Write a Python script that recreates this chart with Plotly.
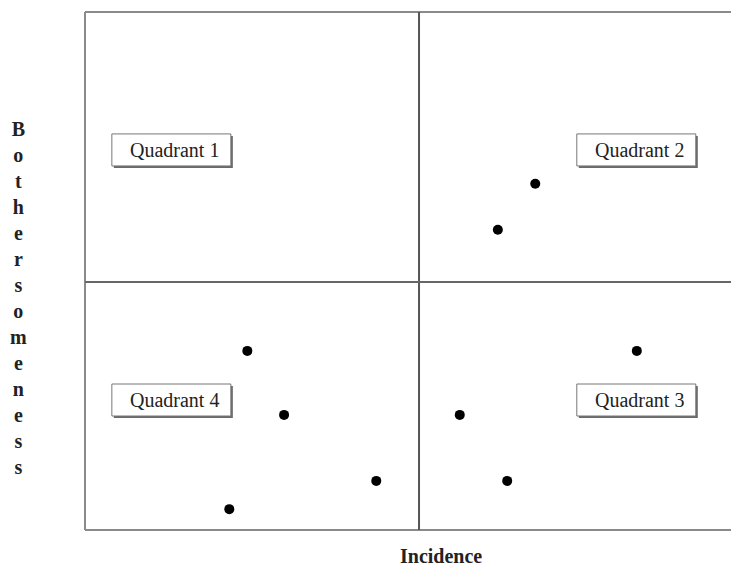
import plotly.graph_objects as go

# Data, axis units: x 0..9.67, y 0..10.44, split at 5
incidence = [6.74, 6.18, 2.43, 2.98, 4.36, 2.16, 8.26, 5.61, 6.32]
bothersomeness = [6.98, 6.05, 3.61, 2.32, 0.99, 0.42, 3.61, 2.32, 0.99]
quadrant_labels = ["Quadrant 1", "Quadrant 2", "Quadrant 4", "Quadrant 3"]
quadrant_x = [1.30, 8.26, 1.30, 8.26]
quadrant_y = [7.66, 7.66, 2.62, 2.62]
split_x = 5
split_y = 5
x_title = "Incidence"
y_title = "Bothersomeness"

XR = [0, 9.67]
YR = [0, 10.44]
SERIF = "Liberation Serif, Times New Roman, serif"
PW, PH = 646.0, 518.0  # plot area size in px

fig = go.Figure()
fig.add_trace(go.Scatter(
    x=incidence, y=bothersomeness, mode="markers",
    marker=dict(color="black", size=10), showlegend=False, hoverinfo="skip"))

shapes = [
    dict(type="line", xref="paper", yref="paper", x0=0, x1=0, y0=0, y1=1,
         line=dict(color="#8a8a8a", width=2)),
    dict(type="line", xref="paper", yref="paper", x0=0, x1=1, y0=1, y1=1,
         line=dict(color="#8a8a8a", width=2)),
    dict(type="line", xref="paper", yref="paper", x0=0, x1=1, y0=0, y1=0,
         line=dict(color="#8a8a8a", width=2)),
    dict(type="line", xref="x", yref="paper", x0=split_x, x1=split_x, y0=0, y1=1,
         line=dict(color="#555555", width=2)),
    dict(type="line", xref="paper", yref="y", x0=0, x1=1, y0=split_y, y1=split_y,
         line=dict(color="#666666", width=2)),
]

annotations = []
for t, qx, qy in zip(quadrant_labels, quadrant_x, quadrant_y):
    # drop shadow, then white framed box (pixel-sized around the label anchor)
    shapes.append(dict(
        type="rect", xref="x", yref="y", xsizemode="pixel", ysizemode="pixel",
        xanchor=qx, yanchor=qy, x0=-58, x1=61, y0=-18, y1=14,
        fillcolor="#6a6a6a", line=dict(width=0), layer="above"))
    shapes.append(dict(
        type="rect", xref="x", yref="y", xsizemode="pixel", ysizemode="pixel",
        xanchor=qx, yanchor=qy, x0=-60, x1=59, y0=-16, y1=16,
        fillcolor="white", line=dict(color="#777777", width=1), layer="above"))
    annotations.append(dict(
        x=qx, y=qy, xref="x", yref="y", text=t, showarrow=False, xshift=3,
        xanchor="center", yanchor="middle",
        font=dict(family=SERIF, size=20, color="#222222")))

# vertical stacked y title
annotations.append(dict(
    x=(18 - 85) / PW, y=(530 - 297.5) / PH, xref="paper", yref="paper",
    text="<br>".join("<b>%s</b>" % ch for ch in y_title),
    showarrow=False, align="center", xanchor="center", yanchor="middle",
    font=dict(family=SERIF, size=20, color="#222222")))

annotations.append(dict(
    x=(441 - 85) / PW, y=(530 - 556) / PH, xref="paper", yref="paper",
    text="<b>%s</b>" % x_title, xanchor="center", yanchor="middle",
    showarrow=False, font=dict(family=SERIF, size=20, color="#222222")))

fig.update_layout(
    width=731, height=570,
    margin=dict(l=85, r=0, t=12, b=40, pad=0),
    plot_bgcolor="white", paper_bgcolor="white",
    xaxis=dict(range=XR, showgrid=False, zeroline=False, showticklabels=False,
               ticks="", showline=False, fixedrange=True),
    yaxis=dict(range=YR, showgrid=False, zeroline=False, showticklabels=False,
               ticks="", showline=False, fixedrange=True),
    shapes=shapes, annotations=annotations,
)

fig.write_html("out.html", config={"displayModeBar": False},
               post_script="document.body.style.margin='0';document.body.style.overflow='hidden';")
